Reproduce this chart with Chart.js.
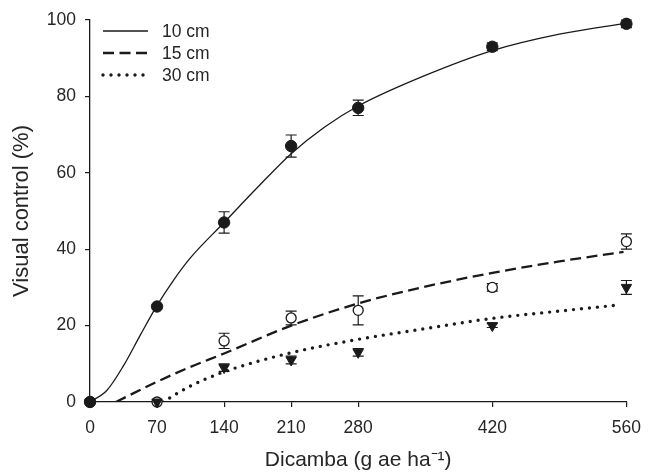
<!DOCTYPE html>
<html>
<head>
<meta charset="utf-8">
<script src="https://cdn.jsdelivr.net/npm/chart.js@4.4.1/dist/chart.umd.min.js"></script>
<style>
  html, body { margin: 0; padding: 0; background: #fff; }
</style>
</head>
<body>
<canvas id="myChart" width="652" height="473"></canvas>
<script>
const doses = [0, 70, 140, 210, 280, 420, 560];
const tickValues = [0, 70, 140, 210, 280, 420, 560];
const seriesLabels = ['10 cm', '15 cm', '30 cm'];

const control10 = [0, 25, 47, 67, 77, 93, 99];
const err10 = [0, 0, 2.8, 2.9, 2, 1, 1];
const control15 = [0, 0, 16, 22, 24, 30, 42];
const err15 = [0, 0, 2, 1.8, 3.8, 1, 2];
const control30 = [0, 0, 9, 11, 13, 20, 30];
const err30 = [0, 0, 1, 1, 1, 0.5, 1.8];

// fitted curves
const fit10X = [0, 17.5, 35, 52.5, 70, 87.5, 105, 140, 175, 210, 245, 280, 350, 420, 490, 560];
const fit10Y = [0, 3, 9.5, 17.5, 25.3, 32, 37.8, 47, 56.2, 65, 72, 77.5, 85.5, 92, 96.3, 99.2];
const fit15X = [27, 70, 105, 140, 210, 280, 350, 420, 490, 557];
const fit15Y = [0, 5.3, 9.2, 12.7, 20, 25.8, 30.2, 33.8, 36.8, 39.3];
const fit30X = [76, 105, 140, 210, 280, 350, 420, 490, 552];
const fit30Y = [0, 4.2, 7.9, 12.9, 16.4, 19.2, 21.9, 23.8, 25.4];

const ink = '#1a1a1a';
const textInk = '#262626';

Chart.defaults.font.family = "'Liberation Sans', Arial, sans-serif";
Chart.defaults.color = textInk;

function pairs(xs, ys) {
    return xs.map((v, i) => ({x: v, y: ys[i]}));
}

const errorBars = {
    id: 'errorBars',
    beforeDatasetsDraw(chart) {
        const ctx = chart.ctx;
        const xs = chart.scales.x, ys = chart.scales.y;
        ctx.save();
        ctx.strokeStyle = ink;
        ctx.lineWidth = 1.2;
        chart.data.datasets.forEach(ds => {
            if (!ds.errors) return;
            ds.data.forEach((pt, i) => {
                const e = ds.errors[i];
                if (!e) return;
                const px = xs.getPixelForValue(pt.x);
                const top = ys.getPixelForValue(pt.y + e);
                const bot = ys.getPixelForValue(pt.y - e);
                ctx.beginPath();
                ctx.moveTo(px, top); ctx.lineTo(px, bot);
                ctx.moveTo(px - 5.5, top); ctx.lineTo(px + 5.5, top);
                ctx.moveTo(px - 5.5, bot); ctx.lineTo(px + 5.5, bot);
                ctx.stroke();
            });
        });
        ctx.restore();
    }
};

// legend inside the plot, top left
const lineLegend = {
    id: 'lineLegend',
    afterDraw(chart) {
        const ctx = chart.ctx;
        const area = chart.chartArea;
        const curves = chart.data.datasets.filter(ds => ds.isCurve);
        ctx.save();
        ctx.font = "17.5px 'Liberation Sans', Arial, sans-serif";
        ctx.textBaseline = 'middle';
        ctx.fillStyle = textInk;
        curves.forEach((ds, i) => {
            const y = area.top + 11 + i * 22;
            ctx.beginPath();
            ctx.strokeStyle = ds.borderColor;
            ctx.lineWidth = ds.borderWidth;
            ctx.lineCap = ds.borderCapStyle || 'butt';
            ctx.setLineDash(ds.borderDash || []);
            ctx.moveTo(area.left + 13, y);
            ctx.lineTo(area.left + 58, y);
            ctx.stroke();
            ctx.setLineDash([]);
            ctx.fillText(ds.label, area.left + 72, y + 1);
        });
        ctx.restore();
    }
};

const ctx = document.getElementById('myChart');

const myChart = new Chart(ctx, {
    type: 'line',
    data: {
        datasets: [
            {
                label: seriesLabels[0] + ' obs',
                data: pairs(doses, control10),
                errors: err10,
                showLine: false,
                pointStyle: 'circle',
                pointRadius: 5.7,
                pointBackgroundColor: ink,
                pointBorderColor: ink,
                pointBorderWidth: 1,
                clip: false,
                order: 2
            },
            {
                label: seriesLabels[1] + ' obs',
                data: pairs(doses, control15),
                errors: err15,
                showLine: false,
                pointStyle: 'circle',
                pointRadius: 5,
                pointBackgroundColor: '#ffffff',
                pointBorderColor: ink,
                pointBorderWidth: 1.3,
                clip: false,
                order: 3
            },
            {
                label: seriesLabels[2] + ' obs',
                data: pairs(doses, control30),
                errors: err30,
                showLine: false,
                pointStyle: 'triangle',
                pointRotation: 180,
                pointRadius: 6,
                pointBackgroundColor: ink,
                pointBorderColor: ink,
                pointBorderWidth: 1,
                clip: false,
                order: 1
            },
            {
                label: seriesLabels[0],
                isCurve: true,
                data: pairs(fit10X, fit10Y),
                borderColor: ink,
                borderWidth: 1.3,
                pointRadius: 0,
                cubicInterpolationMode: 'monotone',
                fill: false,
                order: 10
            },
            {
                label: seriesLabels[1],
                isCurve: true,
                data: pairs(fit15X, fit15Y),
                borderColor: ink,
                borderWidth: 2.3,
                borderDash: [11, 5.5],
                pointRadius: 0,
                cubicInterpolationMode: 'monotone',
                fill: false,
                order: 10
            },
            {
                label: seriesLabels[2],
                isCurve: true,
                data: pairs(fit30X, fit30Y),
                borderColor: ink,
                borderWidth: 3.4,
                borderDash: [0, 8],
                borderCapStyle: 'round',
                pointRadius: 0,
                cubicInterpolationMode: 'monotone',
                fill: false,
                order: 10
            }
        ]
    },
    options: {
        responsive: false,
        animation: false,
        events: [],
        layout: {
            padding: {top: 20, right: 16, bottom: 0, left: 0}
        },
        plugins: {
            legend: {display: false},
            tooltip: {enabled: false}
        },
        scales: {
            x: {
                type: 'linear',
                min: 0,
                max: 560,
                afterBuildTicks: scale => {
                    scale.ticks = tickValues.map(v => ({value: v}));
                },
                afterFit: scale => { scale.height = 71; },
                grid: {
                    drawOnChartArea: false,
                    drawTicks: true,
                    tickLength: 5,
                    color: ink,
                    lineWidth: 1.2
                },
                border: {display: true, color: ink, width: 1.3},
                ticks: {
                    font: {size: 17.5},
                    color: textInk,
                    padding: 11,
                    maxRotation: 0,
                    autoSkip: false
                },
                title: {
                    display: true,
                    text: 'Dicamba (g ae ha\u207B\u00B9)',
                    font: {size: 21},
                    color: textInk,
                    padding: {top: 0, bottom: 0}
                }
            },
            y: {
                min: 0,
                max: 100,
                afterFit: scale => { scale.width = 90; },
                grid: {
                    drawOnChartArea: false,
                    drawTicks: true,
                    tickLength: 5,
                    color: ink,
                    lineWidth: 1.2
                },
                border: {display: true, color: ink, width: 1.3},
                ticks: {
                    stepSize: 20,
                    font: {size: 17.5},
                    color: textInk,
                    padding: 9
                },
                title: {
                    display: true,
                    text: 'Visual control (%)',
                    font: {size: 22},
                    color: textInk,
                    padding: {top: 9, bottom: 0}
                }
            }
        }
    },
    plugins: [errorBars, lineLegend]
});
</script>
</body>
</html>
